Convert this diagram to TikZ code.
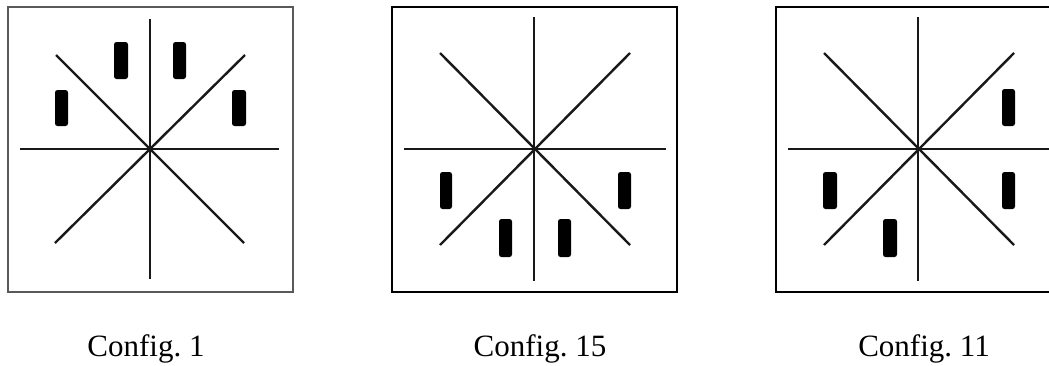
\documentclass[tikz,border=0pt]{standalone}
\usepackage{fontspec}
\setmainfont{Liberation Serif}
\begin{document}
\begin{tikzpicture}[x=1pt,y=-1pt,
  frame/.style={line width=2pt,draw=black},
  ray/.style={line width=2.4pt,draw=black!90},
  pin/.style={fill=black,rounded corners=2.5pt},
  caption/.style={font=\fontsize{31}{35}\selectfont,anchor=base}]
\useasboundingbox (0,0) rectangle (1049,365);
\clip (0,0) rectangle (1049,365);
% Panel 1
\draw[frame,draw=black!65] (8,7) rectangle (293,292);
\draw[ray] (20,149) -- (279,149);
\draw[ray] (150,19) -- (150,279);
\draw[ray] (56,55) -- (244,243);
\draw[ray] (245,55) -- (55,243);
\fill[pin] (114,42) rectangle (128,79);
\fill[pin] (173,42) rectangle (186,79);
\fill[pin] (55,90) rectangle (68,126);
\fill[pin] (232,90) rectangle (246,126);
\node[caption] (c1) at (146,356) {Config.\ 1};
% Panel 2
\draw[frame] (392,7) rectangle (677,292);
\draw[ray] (404,149) -- (666,149);
\draw[ray] (534,17) -- (534,281);
\draw[ray] (440,53) -- (630,245);
\draw[ray] (630,53) -- (440,245);
\fill[pin] (440,172) rectangle (452,209);
\fill[pin] (618,172) rectangle (631,209);
\fill[pin] (499,219) rectangle (512,257);
\fill[pin] (558,219) rectangle (571,257);
\node[caption] (c2) at (540,356) {Config.\ 15};
% Panel 3
\draw[frame] (776,7) rectangle (1055,292);
\draw[ray] (788,149) -- (1049,149);
\draw[ray] (918,17) -- (918,281);
\draw[ray] (824,53) -- (1014,245);
\draw[ray] (1014,53) -- (824,245);
\fill[pin] (1002,89) rectangle (1015,126);
\fill[pin] (823,172) rectangle (837,209);
\fill[pin] (1002,172) rectangle (1015,209);
\fill[pin] (883,219) rectangle (897,257);
\node[caption] (c3) at (924,356) {Config.\ 11};
\end{tikzpicture}
\end{document}
